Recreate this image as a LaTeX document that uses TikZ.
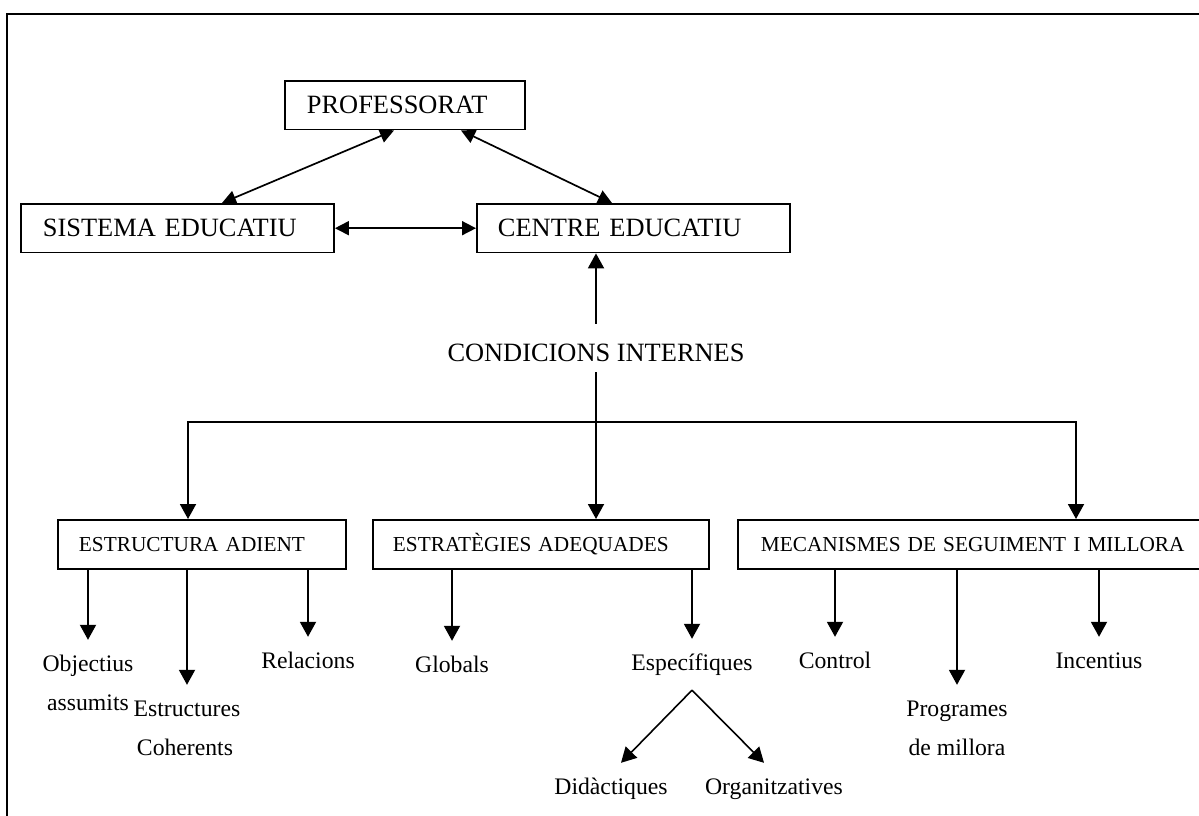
\documentclass[tikz,border=0pt]{standalone}
\usepackage{fontspec}
\setmainfont{Liberation Serif}
\usetikzlibrary{arrows.meta,calc}
\begin{document}
\begin{tikzpicture}[x=1pt,y=-1pt,
  bigbox/.style={draw, line width=1.9pt, anchor=north west, minimum height=48.5pt, inner xsep=22pt, inner ysep=0pt, align=left, text height=17.5pt, text depth=0pt, font=\fontsize{26.4}{30}\selectfont},
  smallbox/.style={bigbox, minimum height=49pt, inner xsep=21pt, text height=14.1pt, font=\fontsize{21.3}{25}\selectfont},
  lbl/.style={anchor=base, inner xsep=0pt, inner ysep=15pt, text height=16pt, text depth=5pt, font=\fontsize{23.7}{28}\selectfont},
  linetwo/.style={anchor=base, inner sep=0pt, font=\fontsize{23.7}{28}\selectfont},
  condlbl/.style={anchor=base, inner xsep=0pt, inner ysep=0pt, text height=37pt, text depth=11pt, font=\fontsize{26.4}{30}\selectfont},
  arr/.style={line width=1.9pt, -{Triangle[length=15pt,width=16pt]}},
  darr/.style={line width=1.7pt, {Triangle[length=14pt,width=14pt]}-{Triangle[length=14pt,width=14pt]}},
  frameline/.style={line width=2.8pt}
]
\useasboundingbox (0,0) rectangle (1199,816);
\clip (0,0) rectangle (1199,816);
\draw[frameline] (7,816) -- (7,14) -- (1199,14);

% boxes
\node[bigbox, text width=196pt] (prof) at (284,80) {PROFESSORAT};
\node[bigbox, text width=269pt] (sis) at (20,203) {SISTEMA EDUCATIU};
\node[bigbox, inner xsep=21pt, text width=271pt] (cen) at (476,203) {CENTRE EDUCATIU};
\node[smallbox, text width=246pt] (estr) at (57,519) {ESTRUCTURA ADIENT};
\node[smallbox, inner xsep=20pt, text width=296pt] (estg) at (372,519) {ESTRATÈGIES ADEQUADES};
\node[smallbox, inner xsep=23pt, text width=454pt] (mec) at (737,519) {MECANISMES DE SEGUIMENT I MILLORA};

\node[condlbl] (cond) at (596,361) {CONDICIONS INTERNES};
\coordinate (j) at (596,422);

% labels
\node[lbl] (obj) at (88,671) {Objectius};
\node[linetwo] (objb) at (88,710) {assumits};
\node[lbl] (estc) at (187,716) {Estructures};
\node[linetwo] (estcb) at (185,755) {Coherents};
\node[lbl] (rel) at (308,668) {Relacions};
\node[lbl] (glob) at (452,672) {Globals};
\node[lbl] (spec) at (692,670) {Específiques};
\node[lbl] (ctrl) at (835,668) {Control};
\node[lbl] (prog) at (957,716) {Programes};
\node[linetwo] (progb) at (957,755) {de millora};
\node[lbl] (inc) at (1099,668) {Incentius};
\node[lbl] (did) at (611,794) {Didàctiques};
\node[lbl] (org) at (774,794) {Organitzatives};

% top connectors
\draw[darr] ($(prof.south west)+(110,0)$) -- ($(sis.north west)+(202,0)$);
\draw[darr] ($(prof.south west)+(177,0)$) -- ($(cen.north west)+(136,0)$);
\draw[darr] (sis.east) -- (cen.west);
\draw[arr] (cond.north) -- (cond.north |- cen.south);
\draw[arr] (cond.south) -- (cond.south |- estg.north);
\draw[arr] (j) -| ($(estr.north west)+(131,0)$);
\draw[arr] (j) -| ($(mec.north west)+(339,0)$);

% bottom connectors
\draw[arr] (obj.north |- estr.south) -- (obj.north);
\draw[arr] (estc.north |- estr.south) -- (estc.north);
\draw[arr] (rel.north |- estr.south) -- (rel.north);
\draw[arr] (glob.north |- estg.south) -- (glob.north);
\draw[arr] (spec.north |- estg.south) -- (spec.north);
\draw[arr] (ctrl.north |- mec.south) -- (ctrl.north);
\draw[arr] (prog.north |- mec.south) -- (prog.north);
\draw[arr] (inc.north |- mec.south) -- (inc.north);
\draw[arr, line width=1.6pt] (spec.south) -- ($(did.north)+(10,0)$);
\draw[arr, line width=1.6pt] (spec.south) -- ($(org.north)+(-10,0)$);
\end{tikzpicture}
\end{document}
